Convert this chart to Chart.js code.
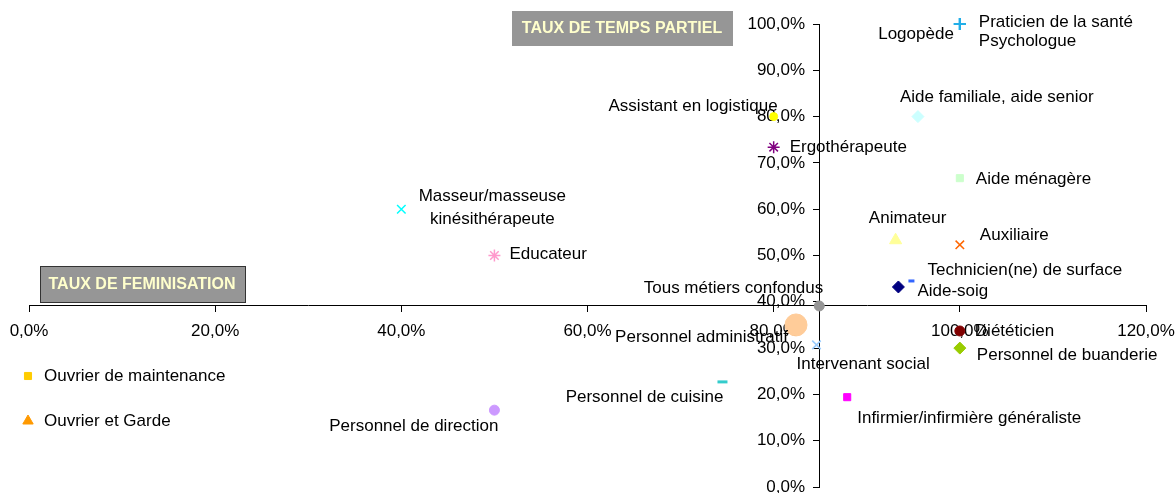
<!DOCTYPE html>
<html>
<head>
<meta charset="utf-8">
<script src="https://cdn.jsdelivr.net/npm/chart.js@4/dist/chart.umd.min.js"></script>
<style>
html,body{margin:0;padding:0;background:#fff;}
#wrap{width:1175px;height:493px;position:relative;}
</style>
</head>
<body>
<div id="wrap"><canvas id="c" width="1175" height="493"></canvas></div>
<script>
// ---- Data ----
const categories = [
  "Logopède", "Praticien de la santé", "Psychologue", "Aide familiale, aide senior",
  "Assistant en logistique", "Ergothérapeute", "Aide ménagère", "Masseur/masseuse kinésithérapeute",
  "Animateur", "Auxiliaire", "Educateur", "Technicien(ne) de surface", "Aide-soignant",
  "Tous métiers confondus", "Personnel administratif", "Diététicien", "Intervenant social",
  "Personnel de buanderie", "Personnel de cuisine", "Infirmier/infirmière généraliste",
  "Personnel de direction", "Ouvrier de maintenance", "Ouvrier et Garde"
];
// Taux de féminisation (%)
const feminisation = [100, 100, 100, 95.5, 80, 80, 100, 40, 93.1, 100, 50, 94.8, 93.4, 84.9, 82.4, 100, 84.6, 100, 74.5, 87.9, 50, null, null];
// Taux de temps partiel (%)
const tempsPartiel = [100, 100, 100, 80, 80, 73.4, 66.7, 60, 53.3, 52.3, 50, 44.5, 43.2, 39.1, 35.0, 33.7, 30.7, 30.0, 22.7, 19.4, 16.6, null, null];
const xTickValues = [0, 20, 40, 60, 80, 100, 120];
const yTickValues = [0, 10, 20, 30, 40, 50, 60, 70, 80, 90, 100];
const totalIndex = categories.indexOf("Tous métiers confondus");
const legendOnly = ["Ouvrier de maintenance", "Ouvrier et Garde"];

// ---- Styles (markers and label placement) ----
const markerStyles = [
  {s:'cross', c:'#22AEE8', r:6, bw:2},
  {s:'cross', c:'#22AEE8', r:6, bw:2},
  {s:'cross', c:'#22AEE8', r:6, bw:2},
  {s:'rectRot', c:'#CCFFFF', r:6, bw:1},
  {s:'circle', c:'#FFFF00', r:4, bw:1},
  {s:'star', c:'#800080', r:6, bw:1.5},
  {s:'rect', c:'#CCFFCC', r:5, bw:1},
  {s:'crossRot', c:'#00FFFF', r:6, bw:1.5},
  {s:'triangle', c:'#FFFF99', r:7, bw:1},
  {s:'crossRot', c:'#FF6600', r:6, bw:1.5},
  {s:'star', c:'#FF99CC', r:6, bw:1.5},
  {s:'line', c:'#3366FF', r:3, bw:3},
  {s:'rectRot', c:'#000080', r:6, bw:1},
  {s:'circle', c:'#969696', r:5, bw:1},
  {s:'circle', c:'#FFCC99', r:11, bw:1},
  {s:'circle', c:'#800000', r:5, bw:1},
  {s:'crossRot', c:'#99CCFF', r:6, bw:1.5},
  {s:'rectRot', c:'#99CC00', r:6, bw:1},
  {s:'line', c:'#33CCCC', r:5, bw:3},
  {s:'rect', c:'#FF00FF', r:5, bw:1},
  {s:'circle', c:'#CC99FF', r:5, bw:1},
  {s:'rect', c:'#FFCC00', r:5, bw:1},
  {s:'triangle', c:'#FF9900', r:6, bw:1}
];
const labelPlacement = [
  {dx:-6, dy:10, a:'right'},
  {dx:19, dy:-2, a:'left'},
  {dx:19, dy:17, a:'left'},
  {dx:-18, dy:-19, a:'left'},
  {dx:4, dy:-10, a:'right'},
  {dx:16, dy:0, a:'left'},
  {dx:16, dy:1, a:'left'},
  {dx:91, dy:-13, a:'center', lines:["Masseur/masseuse","kinésithérapeute"], lh:23},
  {dx:12, dy:-22, a:'center'},
  {dx:20, dy:-10, a:'left'},
  {dx:15, dy:-1, a:'left'},
  {dx:16, dy:-11, a:'left'},
  {dx:19, dy:4, a:'left', clip:70},
  {dx:4, dy:-18, a:'right'},
  {dx:-8, dy:12, a:'right'},
  {dx:15, dy:0, a:'left'},
  {dx:-20, dy:19, a:'left'},
  {dx:17, dy:7, a:'left'},
  {dx:1, dy:15, a:'right'},
  {dx:10, dy:21, a:'left'},
  {dx:4, dy:16, a:'right'},
  null, null
];
const FONT = "'Liberation Sans', Arial, sans-serif";

const datasets = categories.map((name, i) => {
  const m = markerStyles[i];
  const hasData = feminisation[i] != null && tempsPartiel[i] != null;
  return {
    label: name,
    data: hasData ? [{x: feminisation[i], y: tempsPartiel[i]}] : [],
    pointStyle: m.s,
    pointRadius: m.r,
    pointHoverRadius: m.r,
    pointBorderWidth: m.bw,
    backgroundColor: m.c,
    borderColor: m.c,
    showLine: false,
    clip: false
  };
});

const fmt = v => v.toFixed(1).replace('.', ',') + '%';

const labelPlugin = {
  id: 'pointLabels',
  afterDatasetsDraw(chart) {
    const ctx = chart.ctx;
    ctx.save();
    ctx.font = '17px ' + FONT;
    ctx.fillStyle = '#000';
    ctx.textBaseline = 'middle';
    chart.data.datasets.forEach((ds, i) => {
      const p = labelPlacement[i];
      if (!p || !ds.data.length) return;
      const el = chart.getDatasetMeta(i).data[0];
      const lines = p.lines || [categories[i]];
      ctx.textAlign = p.a;
      lines.forEach((t, k) => {
        const x = el.x + p.dx, y = el.y + p.dy + k * (p.lh || 0);
        if (p.clip) {
          ctx.save();
          ctx.beginPath();
          ctx.rect(x, y - 15, p.clip, 30);
          ctx.clip();
          ctx.fillText(t, x, y);
          ctx.restore();
        } else {
          ctx.fillText(t, x, y);
        }
      });
    });
    ctx.restore();
  }
};

const boxesPlugin = {
  id: 'boxes',
  afterDraw(chart) {
    const ctx = chart.ctx;
    ctx.save();
    // Legend entries
    ctx.font = '17px ' + FONT;
    ctx.textBaseline = 'middle';
    ctx.textAlign = 'left';
    legendOnly.forEach((name, k) => {
      const i = categories.indexOf(name);
      const m = markerStyles[i];
      const y = 376 + k * 45;
      ctx.fillStyle = m.c; ctx.strokeStyle = m.c; ctx.lineWidth = m.bw;
      Chart.helpers.drawPoint(ctx, {pointStyle: m.s, radius: m.r, rotation: 0, borderWidth: m.bw}, 28, y);
      ctx.fillStyle = '#000';
      ctx.fillText(name, 44, y);
    });
    // Axis title boxes
    ctx.font = 'bold 16px ' + FONT;
    ctx.textAlign = 'center';
    ctx.fillStyle = '#969696';
    ctx.fillRect(512, 11, 221, 35);
    ctx.fillStyle = '#FFFFCC';
    ctx.fillText('TAUX DE TEMPS PARTIEL', 622, 29);
    ctx.fillStyle = '#969696';
    ctx.fillRect(40, 266, 205, 36);
    ctx.strokeStyle = '#333';
    ctx.lineWidth = 1;
    ctx.strokeRect(40.5, 266.5, 205, 36);
    ctx.fillStyle = '#FFFFCC';
    ctx.fillText('TAUX DE FEMINISATION', 142, 285);
    ctx.restore();
  }
};

new Chart(document.getElementById('c'), {
  type: 'scatter',
  data: { datasets },
  options: {
    responsive: false,
    animation: false,
    layout: { autoPadding: false, padding: {left: 29, right: 29, top: 24, bottom: 6} },
    plugins: { legend: {display: false}, tooltip: {enabled: false} },
    scales: {
      x: {
        type: 'linear',
        min: 0, max: 120,
        position: {y: tempsPartiel[totalIndex]},
        z: 1,
        afterBuildTicks: s => { s.ticks = xTickValues.map(v => ({value: v})); },
        afterFit: s => { s.paddingLeft = 0; s.paddingRight = 0; s.paddingTop = 0; s.paddingBottom = 0; },
        ticks: { callback: v => fmt(v), color: '#000', font: {family: FONT, size: 17}, padding: 9, maxRotation: 0, autoSkip: false },
        grid: { drawOnChartArea: false, drawTicks: true, tickLength: 6, color: '#000', tickColor: '#000' },
        border: { display: true, color: '#000', width: 1 }
      },
      y: {
        type: 'linear',
        min: 0, max: 100,
        position: {x: feminisation[totalIndex]},
        z: 1,
        afterBuildTicks: s => { s.ticks = yTickValues.map(v => ({value: v})); },
        afterFit: s => { s.paddingLeft = 0; s.paddingRight = 0; s.paddingTop = 0; s.paddingBottom = 0; },
        ticks: { callback: v => fmt(v) + '   ', color: '#000', font: {family: FONT, size: 17}, padding: 8, autoSkip: false },
        grid: { drawOnChartArea: false, drawTicks: true, tickLength: 6, color: '#000', tickColor: '#000' },
        border: { display: true, color: '#000', width: 1 }
      }
    }
  },
  plugins: [labelPlugin, boxesPlugin]
});
</script>
</body>
</html>
